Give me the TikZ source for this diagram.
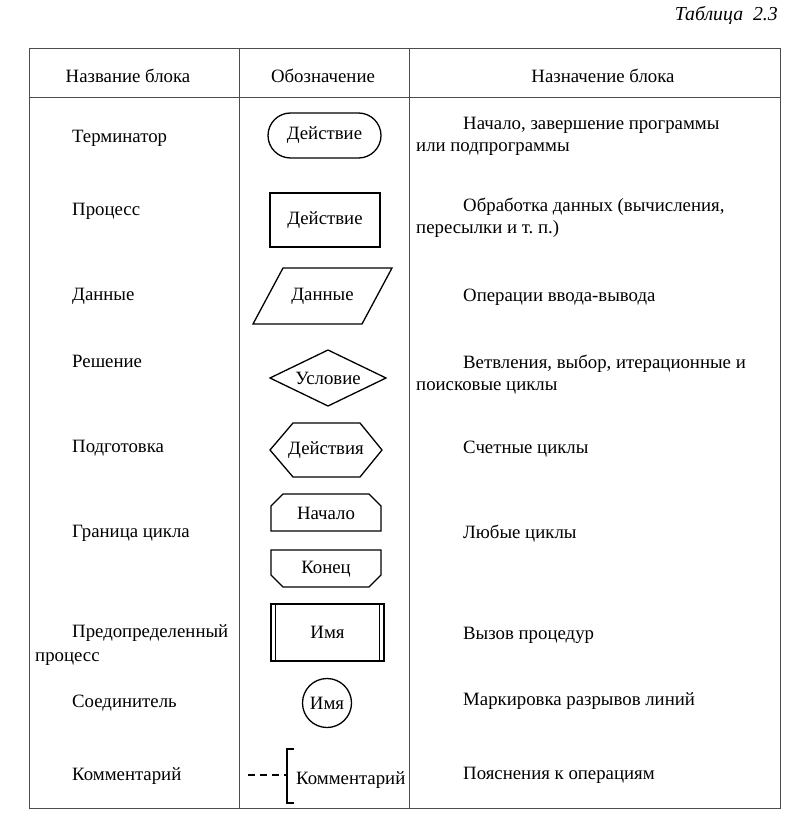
\documentclass[tikz,border=0pt]{standalone}
\usepackage{fontspec}
\setmainfont{Liberation Serif}
\usetikzlibrary{shapes.misc,shapes.geometric}

\tikzset{
  txt/.style={inner sep=0pt, font=\fontsize{18.8}{22}\selectfont},
  lbl/.style={txt, anchor=mid west, yshift=-3pt},
  blk/.style={draw, line width=1.3pt, txt},
  shp/.style={line width=1.3pt},
  tline/.style={line width=1pt, black!70},
}

\begin{document}
\begin{tikzpicture}[x=1pt,y=-1pt]
  \useasboundingbox (0,0) rectangle (786,818);
  \node[txt, anchor=mid east, font=\fontsize{19.8}{22}\selectfont\itshape] (title) at (778,18) {Таблица~~2.3};
  % table frame
  \draw[tline] (29,49) rectangle (780,808);
  \draw[tline] (29,98) -- (780,98);
  \draw[tline] (239,49) -- (239,808);
  \draw[tline] (409,49) -- (409,808);
  % header
  \node[txt] (h1) at (128,76) {Название блока};
  \node[txt] (h2) at (323,76) {Обозначение};
  \node[txt] (h3) at (603,76) {Назначение блока};
  % block names
  \node[lbl] (n1) at (72,137) {Терминатор};
  \node[lbl] (n2) at (72,210) {Процесс};
  \node[lbl] (n3) at (72,295) {Данные};
  \node[lbl] (n4) at (72,362) {Решение};
  \node[lbl] (n5) at (72,447) {Подготовка};
  \node[lbl] (n6) at (72,532) {Граница цикла};
  \node[lbl] (n7) at (72,632) {Предопределенный};
  \node[lbl] (n7b) at (35,656) {процесс};
  \node[lbl] (n8) at (72,702) {Соединитель};
  \node[lbl] (n9) at (72,775) {Комментарий};
  % symbols
  \node[blk, rounded rectangle, minimum width=113pt, minimum height=45pt] (term) at (324.5,135.5) {Действие};
  \node[blk, rectangle, minimum width=110pt, minimum height=54pt] (proc) at (325,220) {Действие};
  \node[txt] (data) at (322.5,296) {Данные};
  \draw[shp] (253,324) -- (283,268) -- (392,268) -- (362,324) -- cycle;
  \node[txt] (cond) at (328,378) {Условие};
  \draw[shp] (270,378) -- (328,350) -- (386,378) -- (328,406) -- cycle;
  \node[txt] (prep) at (326,450) {Действия};
  \draw[shp] (270,450) -- (293,423) -- (360,423) -- (382,450) -- (360,477) -- (293,477) -- cycle;
  \node[txt] (lbeg) at (326,513) {Начало};
  \draw[shp] (271,531) -- (271,506) -- (283,494) -- (369,494) -- (381,506) -- (381,531) -- cycle;
  \node[txt] (lend) at (326,569) {Конец};
  \draw[shp] (271,550) -- (381,550) -- (381,575) -- (369,587) -- (283,587) -- (271,575) -- cycle;
  \node[blk, rectangle, minimum width=113pt, minimum height=57pt] (pre) at (327.5,632.5) {Имя};
  \draw[shp] ([xshift=5pt]pre.north west) -- ([xshift=5pt]pre.south west);
  \draw[shp] ([xshift=-5pt]pre.north east) -- ([xshift=-5pt]pre.south east);
  \node[blk, circle, minimum size=49pt] (conn) at (327,703) {Имя};
  \node[lbl] (comm) at (296,779) {Комментарий};
  \coordinate (cstart) at (248,775);
  \coordinate (brk) at (287,775);
  \draw[shp] (294,749) -- (287,749) -- (287,803) -- (294,803);
  \draw[shp, dash pattern=on 7pt off 5pt] (cstart) -- (brk);
  % descriptions
  \node[lbl] (d1) at (463,124) {Начало, завершение программы};
  \node[lbl] (d1b) at (416,146) {или подпрограммы};
  \node[lbl] (d2) at (463,206) {Обработка данных (вычисления,};
  \node[lbl] (d2b) at (416,228) {пересылки и т.~п.)};
  \node[lbl] (d3) at (463,296) {Операции ввода-вывода};
  \node[lbl] (d4) at (463,363) {Ветвления, выбор, итерационные и};
  \node[lbl] (d4b) at (416,385) {поисковые циклы};
  \node[lbl] (d5) at (463,448) {Счетные циклы};
  \node[lbl] (d6) at (463,533) {Любые циклы};
  \node[lbl] (d7) at (463,634) {Вызов процедур};
  \node[lbl] (d8) at (463,700) {Маркировка разрывов линий};
  \node[lbl] (d9) at (463,774) {Пояснения к операциям};
\end{tikzpicture}
\end{document}
